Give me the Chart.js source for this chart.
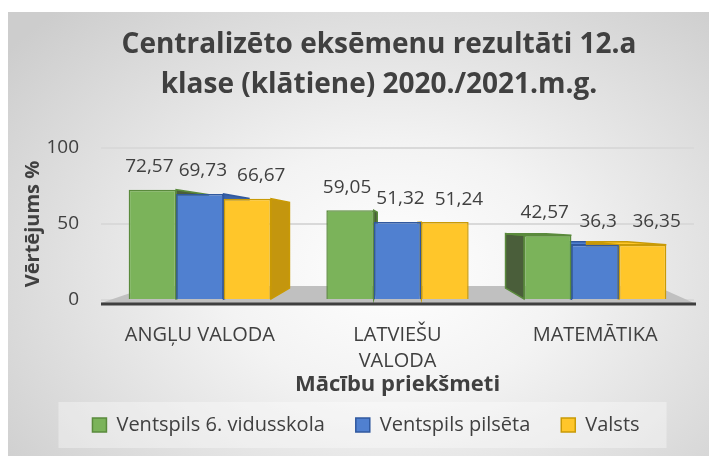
<!DOCTYPE html>
<html>
<head>
<meta charset="utf-8">
<script src="https://cdn.jsdelivr.net/npm/chart.js@4.4.0/dist/chart.umd.min.js"></script>
<style>
html, body { margin: 0; padding: 0; background: #fff; }
#frame {
    position: absolute; left: 8px; top: 12px; width: 701px; height: 444px;
    background: radial-gradient(ellipse 70% 80% at 55% 58%, #ffffff 0%, #f3f3f3 35%, #cdcdcd 100%);
}
canvas { display: block; }
</style>
</head>
<body>
<div id="frame"><canvas id="examChart" width="701" height="444"></canvas></div>
<script>
// data
const titleLines = ['Centralizēto eksēmenu rezultāti 12.a', 'klase (klātiene) 2020./2021.m.g.'];
const subjects = ['ANGĻU VALODA', ['LATVIEŠU', 'VALODA'], 'MATEMĀTIKA'];
const seriesNames = ['Ventspils 6. vidusskola', 'Ventspils pilsēta', 'Valsts'];
const schoolValues = [72.57, 59.05, 42.57];
const cityValues = [69.73, 51.32, 36.3];
const stateValues = [66.67, 51.24, 36.35];
const yTicks = [0, 50, 100];

const textColor = '#404040';
const fillColors = ['#7bb35a', '#5080d0', '#ffc62a'];
const edgeColors = ['#5a8a3c', '#30589e', '#c99a06'];
const sideColors = ['#4a5e3a', '#3a62a8', '#c4960e'];
const labelShift = [-3, 3, 14];
const depth = 0.854;

function backPt(v, x, y) {
    return [v.x + (x - v.x) * depth, v.y + (y - v.y) * depth];
}

function quad(ctx, pts, fill, stroke) {
    ctx.beginPath();
    ctx.moveTo(pts[0][0], pts[0][1]);
    for (let i = 1; i < pts.length; i++) ctx.lineTo(pts[i][0], pts[i][1]);
    ctx.closePath();
    ctx.fillStyle = fill;
    ctx.fill();
    ctx.strokeStyle = stroke;
    ctx.lineWidth = 1.5;
    ctx.stroke();
}

const titlePlugin = {
    id: 'twoLineTitle',
    afterDraw(chart) {
        const ctx = chart.ctx;
        ctx.save();
        ctx.font = 'bold 28px "Open Sans"';
        ctx.fillStyle = textColor;
        ctx.textAlign = 'center';
        ctx.textBaseline = 'middle';
        ctx.fillText(titleLines[0], 371, 33);
        ctx.fillText(titleLines[1], 371, 73);
        ctx.restore();
    }
};

const legendBoxPlugin = {
    id: 'legendBox',
    beforeDraw(chart) {
        const boxes = chart.legend && chart.legend.legendHitBoxes;
        if (!boxes || !boxes.length) return;
        const first = boxes[0], last = boxes[boxes.length - 1];
        const cy = first.top + first.height / 2;
        const ctx = chart.ctx;
        ctx.save();
        ctx.fillStyle = 'rgba(255,255,255,0.35)';
        ctx.fillRect(first.left - 34, cy - 23, last.left + last.width + 27 - (first.left - 34), 46);
        ctx.restore();
    }
};

const bars3dPlugin = {
    id: 'bars3d',
    beforeDatasetsDraw(chart) {
        const ctx = chart.ctx;
        const a = chart.chartArea;
        const v = { x: (a.left + a.right) / 2, y: (a.top + a.bottom) / 2 };
        ctx.save();
        // floor
        ctx.beginPath();
        ctx.moveTo(a.left, a.bottom + 3);
        ctx.lineTo(a.right, a.bottom + 3);
        ctx.lineTo(a.right - 38, a.bottom - 14);
        ctx.lineTo(a.left + 50, a.bottom - 14);
        ctx.closePath();
        ctx.fillStyle = '#c0c0c0';
        ctx.fill();
        // side and top faces
        chart.data.datasets.forEach((ds, di) => {
            chart.getDatasetMeta(di).data.forEach(bar => {
                const p = bar.getProps(['x', 'y', 'base', 'width'], true);
                const l = p.x - p.width / 2, r = p.x + p.width / 2, t = p.y, b = p.base;
                if (r < v.x) {
                    quad(ctx, [[r, t], [r, b], backPt(v, r, b), backPt(v, r, t)], sideColors[di], edgeColors[di]);
                }
                if (l > v.x) {
                    quad(ctx, [[l, t], [l, b], backPt(v, l, b), backPt(v, l, t)], sideColors[di], edgeColors[di]);
                }
                if (t > v.y) {
                    quad(ctx, [[l, t], [r, t], backPt(v, r, t), backPt(v, l, t)], fillColors[di], edgeColors[di]);
                }
            });
        });
        ctx.restore();
    },
    afterDatasetsDraw(chart) {
        const ctx = chart.ctx;
        const a = chart.chartArea;
        ctx.save();
        // front floor edge
        ctx.beginPath();
        ctx.moveTo(a.left, a.bottom + 4);
        ctx.lineTo(a.right + 2, a.bottom + 4);
        ctx.strokeStyle = '#3f3f3f';
        ctx.lineWidth = 3;
        ctx.stroke();
        // value labels
        ctx.font = '19px "Open Sans"';
        ctx.fillStyle = textColor;
        ctx.textAlign = 'center';
        ctx.textBaseline = 'middle';
        chart.data.datasets.forEach((ds, di) => {
            chart.getDatasetMeta(di).data.forEach((bar, i) => {
                const txt = String(ds.data[i]).replace('.', ',');
                ctx.fillText(txt, bar.x + labelShift[di], bar.y - 23);
            });
        });
        ctx.restore();
    }
};

const ctx = document.getElementById('examChart').getContext('2d');
new Chart(ctx, {
    type: 'bar',
    data: {
        labels: subjects,
        datasets: [schoolValues, cityValues, stateValues].map((vals, i) => ({
            label: seriesNames[i],
            data: vals,
            backgroundColor: fillColors[i],
            borderColor: edgeColors[i],
            borderWidth: 1.5,
            categoryPercentage: 0.72,
            barPercentage: 1
        }))
    },
    options: {
        responsive: false,
        animation: false,
        layout: { padding: { top: 136, bottom: 11, right: 15, left: 30 } },
        plugins: {
            title: { display: false },
            tooltip: { enabled: false },
            legend: {
                position: 'bottom',
                labels: {
                    boxWidth: 14,
                    boxHeight: 14,
                    padding: 31,
                    color: textColor,
                    font: { family: 'Open Sans', size: 20 }
                }
            }
        },
        scales: {
            x: {
                afterFit: s => { s.height = 84; },
                grid: { display: false, drawTicks: false },
                border: { display: false },
                ticks: {
                    color: textColor,
                    padding: 22,
                    maxRotation: 0,
                    font: { family: 'Open Sans', size: 20, lineHeight: 1.3 }
                },
                title: {
                    display: true,
                    text: 'Mācību priekšmeti',
                    color: textColor,
                    padding: { top: 0, bottom: -14 },
                    font: { family: 'Open Sans', size: 22, weight: 'bold' }
                }
            },
            y: {
                min: 0,
                max: 100,
                afterFit: s => { s.width = 63; },
                afterBuildTicks: s => { s.ticks = yTicks.map(v => ({ value: v })); },
                grid: { color: '#d9d9d9', lineWidth: 2, drawTicks: false },
                border: { display: false },
                ticks: {
                    color: textColor,
                    padding: 22,
                    font: { family: 'Open Sans', size: 19 }
                },
                title: {
                    display: true,
                    text: 'Vērtējums %',
                    color: textColor,
                    padding: { top: -17, bottom: 0 },
                    font: { family: 'Open Sans', size: 20, weight: 'bold' }
                }
            }
        }
    },
    plugins: [legendBoxPlugin, bars3dPlugin, titlePlugin]
});
</script>
</body>
</html>
